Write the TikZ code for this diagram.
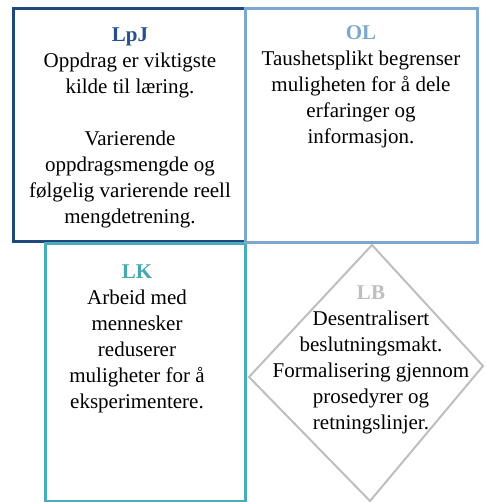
\documentclass[tikz,border=0pt]{standalone}
\usepackage{fontspec}
\setmainfont{LiberationSerif-Regular.ttf}[BoldFont=LiberationSerif-Bold.ttf]
\usepackage{tikz}
\usetikzlibrary{positioning}
\definecolor{lpjblue}{RGB}{31, 73, 125}
\definecolor{lpjtitle}{RGB}{40, 78, 140}
\definecolor{olblue}{RGB}{124, 167, 206}
\definecolor{lkteal}{RGB}{72, 172, 190}
\definecolor{lktitle}{RGB}{70, 168, 172}
\definecolor{lbgray}{RGB}{190, 190, 190}

\tikzset{
    quadbox/.style={rectangle, draw, line width=3pt, inner sep=0pt},
    quadtext/.style={align=center, anchor=north, inner sep=0pt,
        font=\fontsize{21}{26}\selectfont},
}

\begin{document}
\begin{tikzpicture}[x=1pt, y=-1pt]
    \useasboundingbox (0,0) rectangle (485,502);

    % Boxes
    \node[quadbox, lpjblue, minimum width=232pt, minimum height=232pt] (lpj) at (129,125) {};
    \node[quadbox, lkteal, minimum width=200pt, minimum height=258pt] (lk) at (145,372) {};
    \node[quadbox, olblue, minimum width=232pt, minimum height=233pt] (ol) at (361,125.5) {};

    % Diamond
    \coordinate (lbtop) at (372,245);
    \coordinate (lbright) at (483,366);
    \coordinate (lbbottom) at (370,501);
    \coordinate (lbleft) at (249,377);
    \draw[lbgray, line width=2pt, line join=miter] (lbtop) -- (lbright) -- (lbbottom) -- (lbleft) -- cycle;

    % Texts
    \node[quadtext] (lpjtext) at (130,28) {\textbf{\textcolor{lpjtitle}{LpJ}}\\
        Oppdrag er viktigste\\ kilde til læring.\\[26pt]
        Varierende\\ oppdragsmengde og\\ følgelig varierende reell\\ mengdetrening.};
    \node[quadtext] (oltext) at (361,25) {\textbf{\textcolor{olblue}{OL}}\\
        Taushetsplikt begrenser\\ muligheten for å dele\\ erfaringer og\\ informasjon.};
    \node[quadtext] (lktext) at (137,265) {\textbf{\textcolor{lktitle}{LK}}\\
        Arbeid med\\ mennesker\\ reduserer\\ muligheter for å\\ eksperimentere.};
    \node[quadtext] (lbtext) at (371,286) {\textbf{\textcolor{lbgray}{LB}}\\
        Desentralisert\\ beslutningsmakt.\\ Formalisering gjennom\\ prosedyrer og\\ retningslinjer.};
\end{tikzpicture}
\end{document}
